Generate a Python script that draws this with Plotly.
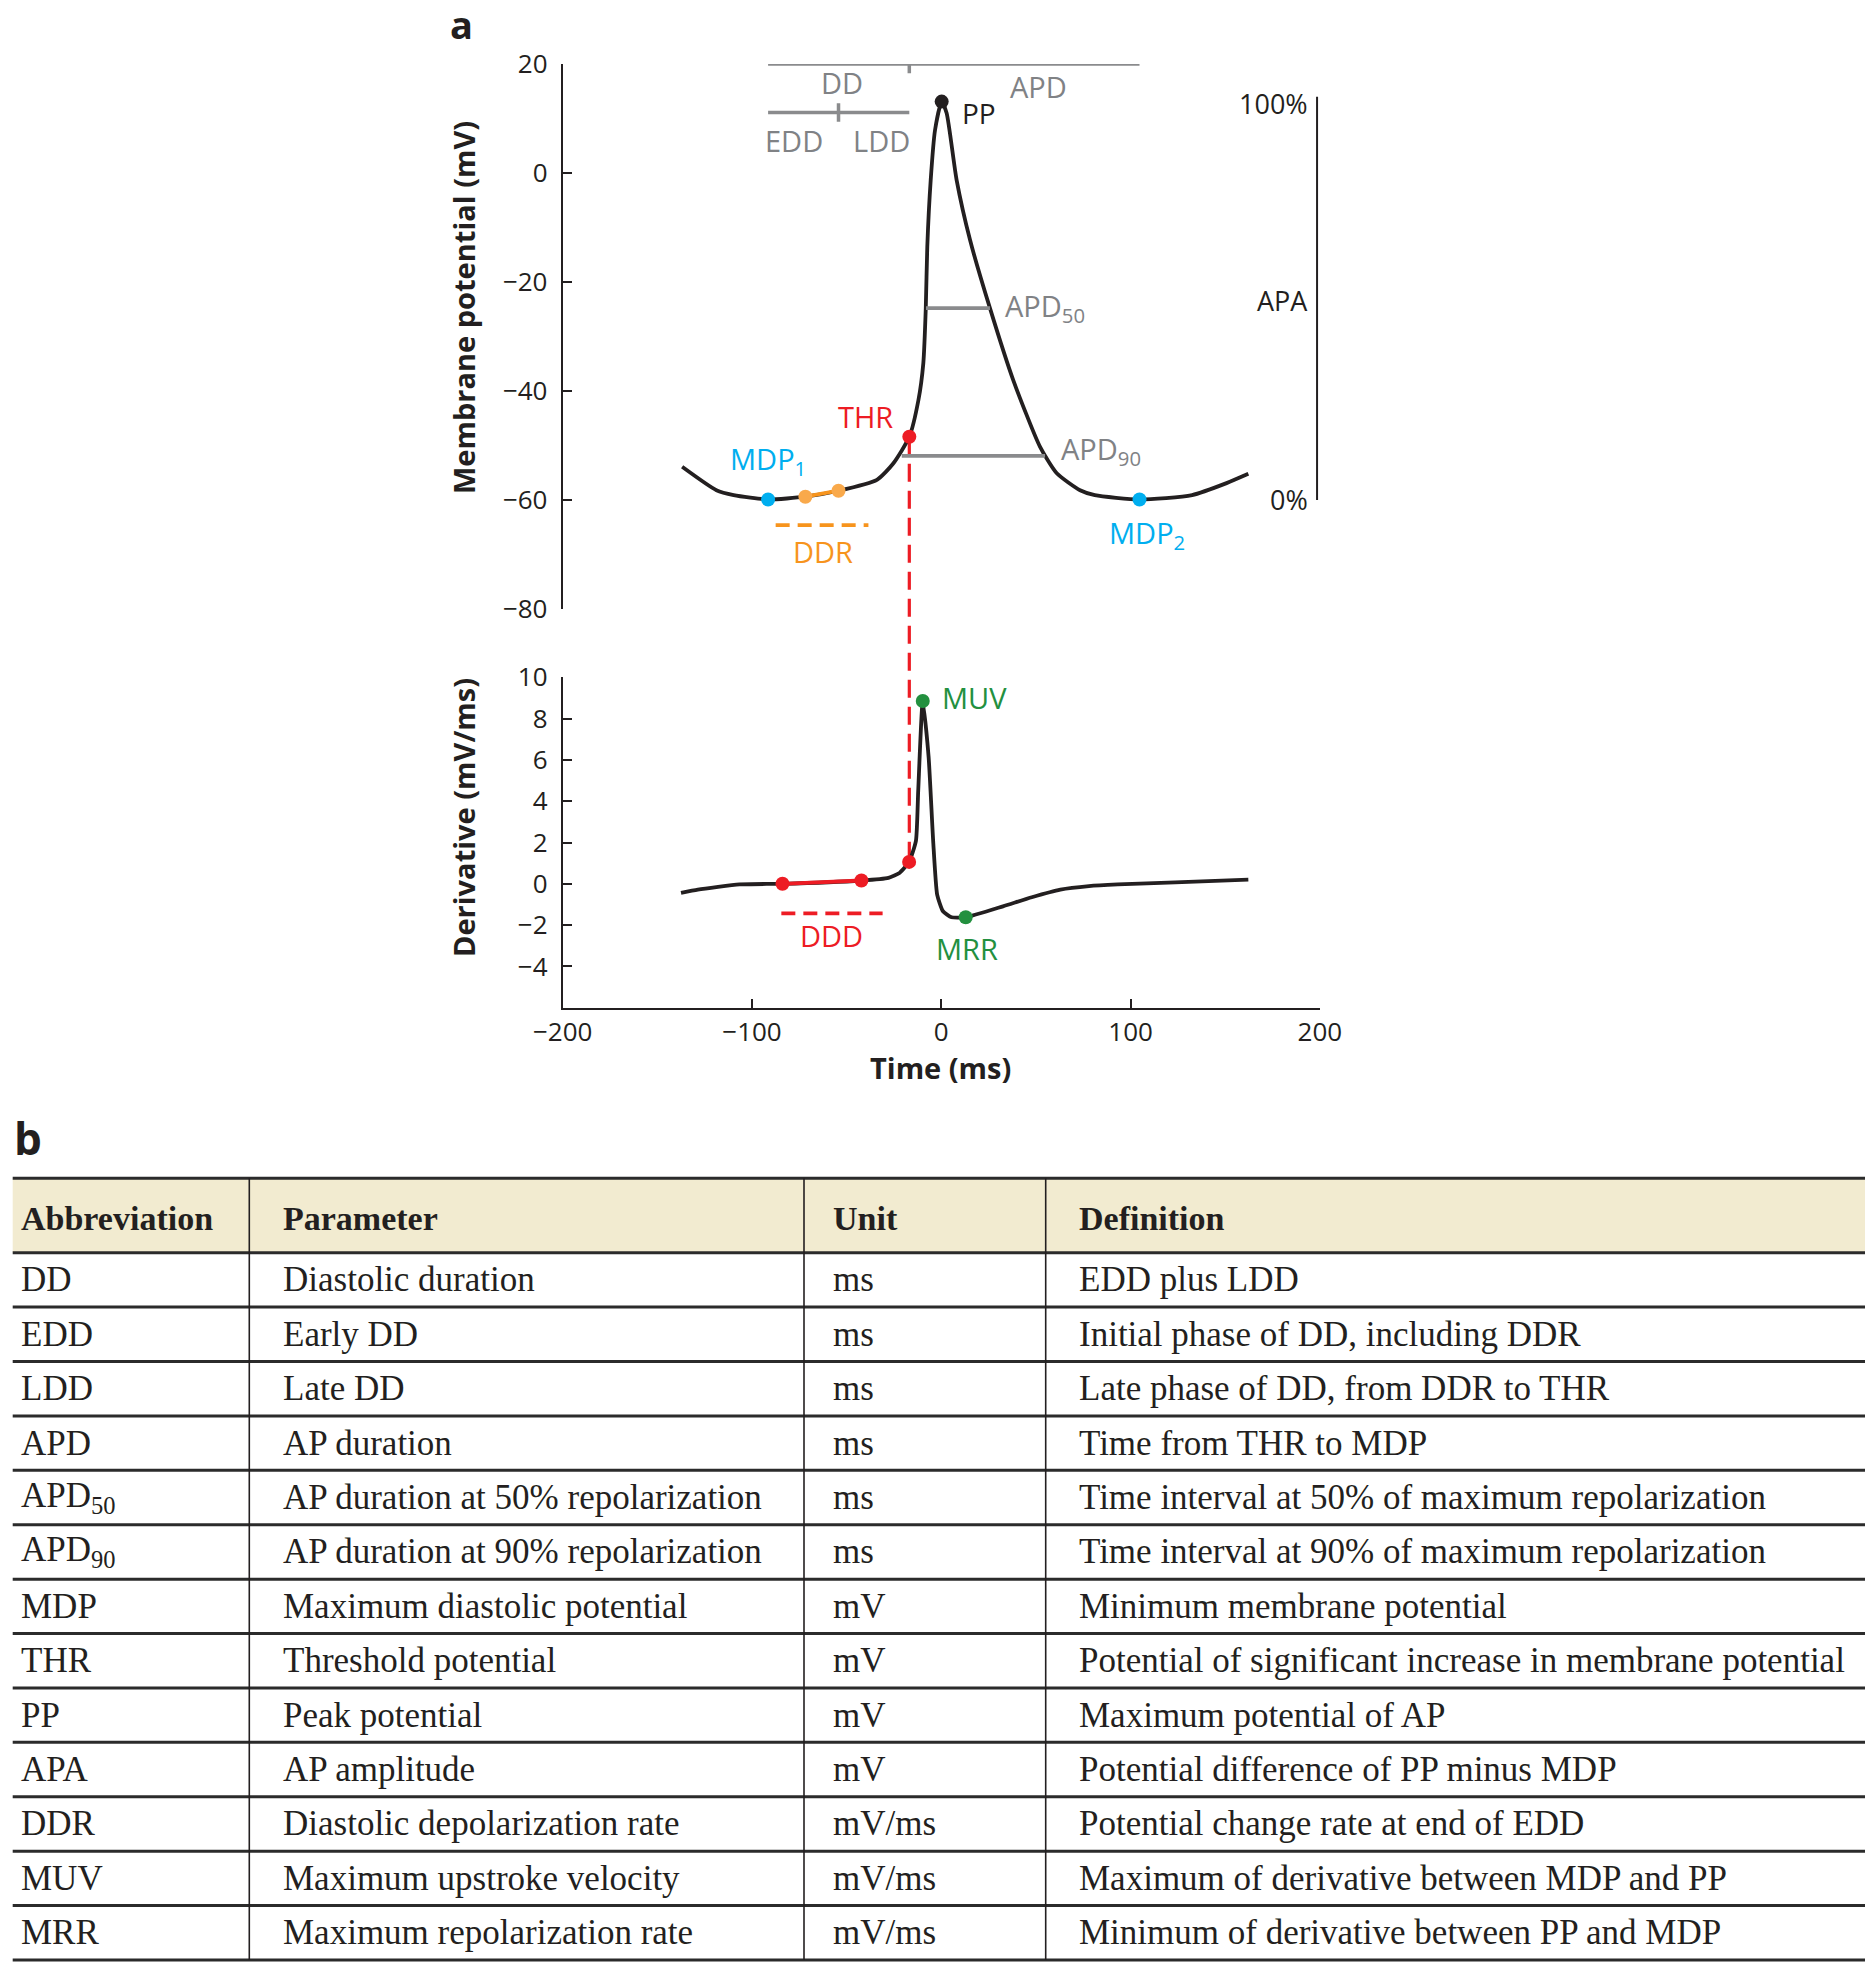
import plotly.graph_objects as go

W, H = 1873, 1971
OFF = 8  # browser body margin
FW, FH = W - OFF, H - OFF

# ---------------- data ----------------
time_ms = [-136.9, -118.8, -109.7, -91.5, -71.8, -54.3, -34.0, -25.4, -16.9, -12.1, -9.5, -8.2,
           -7.4, -5.6, -3.3, 0.2, 2.8, 8.1, 15.2, 25.7, 38.0, 52.1, 61.0, 73.3, 81.1, 104.7,
           132.5, 150.7, 162.2]
potential_mv = [-53.9, -58.2, -59.1, -59.9, -59.4, -58.3, -56.3, -53.3, -48.4, -41.7, -34.9, -24.8,
                -13.5, -1.3, 7.9, 13.1, 11.0, -1.3, -12.3, -24.8, -38.0, -50.2, -55.1, -58.2, -59.1, -59.9,
                -59.1, -56.9, -55.2]

deriv_t = [-137.5, -128.6, -106.6, -83.9, -42.2, -27.9, -21.9, -17.0, -13.4, -12.2, -9.8, -6.7, -4.3,
           -2.2, 0.9, 5.4, 12.9, 32.6, 47.8, 62.9, 78.0, 93.2, 123.5, 162.2]
deriv_mv_ms = [-0.44, -0.28, -0.03, 0.0, 0.16, 0.29, 0.54, 1.06, 2.08, 4.5, 8.85, 6.14, 2.08,
               -0.52, -1.33, -1.62, -1.62, -1.09, -0.65, -0.28, -0.11, -0.03, 0.07, 0.2]

mdp_t = [-91.5, 104.7]
mdp_v = [-59.9, -59.9]
ddr_t = [-71.8, -54.3]
ddr_v = [-59.4, -58.3]
thr_t = [-16.9]
thr_v = [-48.4]
pp_t = [0.2]
pp_v = [13.1]
ddd_t = [-83.9, -42.2, -17.0]
ddd_v = [0.0, 0.16, 1.06]
muv_mrr_t = [-9.8, 12.9]
muv_mrr_v = [8.85, -1.62]
apd50_t = [-8.1, 25.7]
apd50_v = [-24.8, -24.8]
apd90_t = [-20.9, 54.8]
apd90_v = [-51.9, -51.9]
apa_v = [-60.0, 14.0]

top_yticks = [-80, -60, -40, -20, 0, 20]
top_yticktext = ["\u221280", "\u221260", "\u221240", "\u221220", "0", "20"]
bot_yticks = [-4, -2, 0, 2, 4, 6, 8, 10]
bot_yticktext = ["\u22124", "\u22122", "0", "2", "4", "6", "8", "10"]
xticks = [-200, -100, 0, 100, 200]
xticktext = ["\u2212200", "\u2212100", "0", "100", "200"]

col_headers = ["Abbreviation", "Parameter", "Unit", "Definition"]
abbreviations = ["DD", "EDD", "LDD", "APD", "APD<sub>50</sub>", "APD<sub>90</sub>", "MDP", "THR",
                 "PP", "APA", "DDR", "MUV", "MRR"]
parameters = ["Diastolic duration", "Early DD", "Late DD", "AP duration",
              "AP duration at 50% repolarization", "AP duration at 90% repolarization",
              "Maximum diastolic potential", "Threshold potential", "Peak potential",
              "AP amplitude", "Diastolic depolarization rate", "Maximum upstroke velocity",
              "Maximum repolarization rate"]
units = ["ms", "ms", "ms", "ms", "ms", "ms", "mV", "mV", "mV", "mV", "mV/ms", "mV/ms", "mV/ms"]
definitions = ["EDD plus LDD", "Initial phase of DD, including DDR", "Late phase of DD, from DDR to THR",
               "Time from THR to MDP", "Time interval at 50% of maximum repolarization",
               "Time interval at 90% of maximum repolarization", "Minimum membrane potential",
               "Potential of significant increase in membrane potential", "Maximum potential of AP",
               "Potential difference of PP minus MDP", "Potential change rate at end of EDD",
               "Maximum of derivative between MDP and PP", "Minimum of derivative between PP and MDP"]

# ---------------- styles ----------------
BLACK = "#231F20"
GRAY_T = "#808285"
GRAY_L = "#8A8B8D"
RED = "#ED1C24"
ORANGE = "#F7941D"
ORANGE_DOT = "#F9A94B"
BLUE = "#00AEEF"
GREEN = "#23903F"
SANS = "Open Sans"
SERIF = "Liberation Serif"
DOT = 14

# pixel layout (window pixels)
X0, X1 = 562.7, 1319.9
TOP_Y0, TOP_Y1 = 64.0, 609.0
BOT_Y0, BOT_Y1 = 677.3, 1007.7
TOP_RANGE = [-80, 20]
BOT_RANGE = [-6, 10]


def px(xp):
    return (xp - OFF) / FW


def py(yp):
    return 1 - (yp - OFF) / FH


def top_paper(v):
    lo, hi = py(TOP_Y1), py(TOP_Y0)
    return lo + (v - TOP_RANGE[0]) / (TOP_RANGE[1] - TOP_RANGE[0]) * (hi - lo)


def bot_paper(v):
    lo, hi = py(BOT_Y1), py(BOT_Y0)
    return lo + (v - BOT_RANGE[0]) / (BOT_RANGE[1] - BOT_RANGE[0]) * (hi - lo)


fig = go.Figure()

# ---- top panel ----
fig.add_trace(go.Scatter(x=time_ms, y=potential_mv, mode="lines", xaxis="x", yaxis="y",
                         line=dict(color=BLACK, width=3.8, shape="spline", smoothing=0.6),
                         cliponaxis=False, hoverinfo="skip"))
fig.add_trace(go.Scatter(x=apd50_t, y=apd50_v, mode="lines", xaxis="x", yaxis="y",
                         line=dict(color=GRAY_L, width=3.8), hoverinfo="skip"))
fig.add_trace(go.Scatter(x=apd90_t, y=apd90_v, mode="lines", xaxis="x", yaxis="y",
                         line=dict(color=GRAY_L, width=3.8), hoverinfo="skip"))
# DD / APD bars
fig.add_trace(go.Scatter(x=[mdp_t[0], mdp_t[1]], y=[20, 20], mode="lines", xaxis="x", yaxis="y",
                         line=dict(color=GRAY_L, width=3.5), cliponaxis=False, hoverinfo="skip"))
fig.add_trace(go.Scatter(x=[thr_t[0], thr_t[0]], y=[22.0, 18.3], mode="lines", xaxis="x", yaxis="y",
                         line=dict(color=GRAY_L, width=3.5), cliponaxis=False, hoverinfo="skip"))
fig.add_trace(go.Scatter(x=[mdp_t[0], thr_t[0]], y=[11.1, 11.1], mode="lines", xaxis="x", yaxis="y",
                         line=dict(color=GRAY_L, width=3.5), cliponaxis=False, hoverinfo="skip"))
fig.add_trace(go.Scatter(x=[ddr_t[1], ddr_t[1]], y=[12.8, 9.4], mode="lines", xaxis="x", yaxis="y",
                         line=dict(color=GRAY_L, width=3.5), cliponaxis=False, hoverinfo="skip"))
# DDR segment and dashed underline
fig.add_trace(go.Scatter(x=ddr_t, y=ddr_v, mode="lines", xaxis="x", yaxis="y",
                         line=dict(color=ORANGE, width=3.8), hoverinfo="skip"))
fig.add_trace(go.Scatter(x=[-87.5, -38.5], y=[-64.6, -64.6], mode="lines", xaxis="x", yaxis="y",
                         line=dict(color=ORANGE, width=3.8, dash="14px,8px"), hoverinfo="skip"))
# APA bar
fig.add_trace(go.Scatter(x=[198.5, 198.5], y=apa_v, mode="lines", xaxis="x", yaxis="y",
                         line=dict(color=BLACK, width=2), cliponaxis=False, hoverinfo="skip"))
# markers
fig.add_trace(go.Scatter(x=ddr_t, y=ddr_v, mode="markers", xaxis="x", yaxis="y",
                         marker=dict(color=ORANGE_DOT, size=DOT), hoverinfo="skip"))
fig.add_trace(go.Scatter(x=mdp_t, y=mdp_v, mode="markers", xaxis="x", yaxis="y",
                         marker=dict(color=BLUE, size=DOT), hoverinfo="skip"))
fig.add_trace(go.Scatter(x=thr_t, y=thr_v, mode="markers", xaxis="x", yaxis="y",
                         marker=dict(color=RED, size=DOT), hoverinfo="skip"))
fig.add_trace(go.Scatter(x=pp_t, y=pp_v, mode="markers", xaxis="x", yaxis="y",
                         marker=dict(color=BLACK, size=DOT), cliponaxis=False, hoverinfo="skip"))

# ---- bottom panel ----
fig.add_trace(go.Scatter(x=deriv_t, y=deriv_mv_ms, mode="lines", xaxis="x2", yaxis="y2",
                         line=dict(color=BLACK, width=3.8, shape="spline", smoothing=0.5),
                         hoverinfo="skip"))
fig.add_trace(go.Scatter(x=ddd_t[:2], y=ddd_v[:2], mode="lines", xaxis="x2", yaxis="y2",
                         line=dict(color=RED, width=3.8), hoverinfo="skip"))
fig.add_trace(go.Scatter(x=[-84.5, -31.0], y=[-1.43, -1.43], mode="lines", xaxis="x2", yaxis="y2",
                         line=dict(color=RED, width=3.8, dash="14px,8px"), hoverinfo="skip"))
fig.add_trace(go.Scatter(x=ddd_t, y=ddd_v, mode="markers", xaxis="x2", yaxis="y2",
                         marker=dict(color=RED, size=DOT), hoverinfo="skip"))
fig.add_trace(go.Scatter(x=muv_mrr_t, y=muv_mrr_v, mode="markers", xaxis="x2", yaxis="y2",
                         marker=dict(color=GREEN, size=DOT), hoverinfo="skip"))

# THR dashed connector, through both panels
shapes = [dict(type="line", xref="x", yref="paper", x0=thr_t[0], x1=thr_t[0],
               y0=top_paper(thr_v[0]), y1=bot_paper(ddd_v[2]),
               line=dict(color=RED, width=3.2, dash="18px,9px"), layer="below")]

# ---- chart annotations ----
ann = []


def lab(text, x, y, color, xa="center", xref="x", yref="y", size=29):
    ann.append(dict(text=text, x=x, y=y, xref=xref, yref=yref, xanchor=xa, yanchor="middle",
                    showarrow=False, font=dict(family=SANS, size=size, color=color)))


lab("DD", -52.6, 16.6, GRAY_T)
lab("APD", 51.4, 15.8, GRAY_T)
lab("EDD", -77.8, 6.0, GRAY_T)
lab("LDD", -31.5, 6.0, GRAY_T)
lab("PP", 9.9, 11.0, BLACK, xa="left", size=28)
lab("THR", -40.0, -44.7, RED)
lab("MDP<sub>1</sub>", -91.5, -52.7, BLUE)
lab("MDP<sub>2</sub>", 108.5, -66.3, BLUE)
lab("DDR", -62.5, -69.5, ORANGE)
lab("APD<sub>50</sub>", 32.6, -24.6, GRAY_T, xa="left")
lab("APD<sub>90</sub>", 62.3, -51.0, GRAY_T, xa="left")
lab("100%", 194.8, 12.8, BLACK, xa="right", size=27)
lab("APA", 194.8, -23.4, BLACK, xa="right", size=27)
lab("0%", 194.8, -59.9, BLACK, xa="right", size=27)
lab("MUV", 17.5, 9.0, GREEN, xref="x2", yref="y2")
lab("MRR", 13.6, -3.15, GREEN, xref="x2", yref="y2")
lab("DDD", -58.2, -2.5, RED, xref="x2", yref="y2")

# axis titles
ann.append(dict(text="<b>Membrane potential (mV)</b>", x=px(463), y=py(308), xref="paper", yref="paper",
                textangle=-90, showarrow=False, xanchor="center", yanchor="middle",
                font=dict(family=SANS, size=29, color=BLACK)))
ann.append(dict(text="<b>Derivative (mV/ms)</b>", x=px(463), y=py(818), xref="paper", yref="paper",
                textangle=-90, showarrow=False, xanchor="center", yanchor="middle",
                font=dict(family=SANS, size=29, color=BLACK)))
ann.append(dict(text="<b>Time (ms)</b>", x=px(940), y=py(1067), xref="paper", yref="paper",
                showarrow=False, xanchor="center", yanchor="middle",
                font=dict(family=SANS, size=29, color=BLACK)))
ann.append(dict(text="<b>a</b>", x=px(461), y=py(-4), xref="paper", yref="paper",
                showarrow=False, xanchor="center", yanchor="top",
                font=dict(family=SANS, size=38, color=BLACK)))
ann.append(dict(text="<b>b</b>", x=px(28), y=py(1138), xref="paper", yref="paper",
                showarrow=False, xanchor="center", yanchor="middle",
                font=dict(family=SANS, size=44, color=BLACK)))

# ---------------- table ----------------
T_LEFT, T_RIGHT = 12.7, 1866.7
T_TOP, T_HEAD = 1178.3, 1252.7
ROW_H = (1960.0 - T_HEAD) / len(abbreviations)
COL_LINES = [249.3, 804.0, 1045.7]
TEXT_X = [18.5, 281.0, 831.0, 1077.0]

shapes.append(dict(type="rect", xref="paper", yref="paper", x0=px(T_LEFT), x1=px(T_RIGHT),
                   y0=py(T_HEAD), y1=py(T_TOP), fillcolor="#F2EBD0", line=dict(width=0), layer="below"))
hlines = [T_TOP, T_HEAD] + [T_HEAD + ROW_H * (i + 1) for i in range(len(abbreviations))]
for yl in hlines:
    shapes.append(dict(type="line", xref="paper", yref="paper", x0=px(T_LEFT), x1=px(T_RIGHT),
                       y0=py(yl), y1=py(yl), line=dict(color="#2B2B2B", width=3)))
for xl in COL_LINES:
    shapes.append(dict(type="line", xref="paper", yref="paper", x0=px(xl), x1=px(xl),
                       y0=py(T_TOP), y1=py(hlines[-1]), line=dict(color=BLACK, width=1.6)))

for j, htxt in enumerate(col_headers):
    ann.append(dict(text="<b>" + htxt + "</b>", x=px(TEXT_X[j]), y=py((T_TOP + T_HEAD) / 2 + 3),
                    xref="paper", yref="paper", xanchor="left", yanchor="middle", showarrow=False,
                    font=dict(family=SERIF, size=34, color=BLACK)))

for i, row in enumerate(zip(abbreviations, parameters, units, definitions)):
    yc = T_HEAD + ROW_H * (i + 0.5)
    for j, txt in enumerate(row):
        ann.append(dict(text=txt, x=px(TEXT_X[j]), y=py(yc), xref="paper", yref="paper",
                        xanchor="left", yanchor="middle", showarrow=False,
                        font=dict(family=SERIF, size=35, color=BLACK)))

axis_common = dict(showgrid=False, zeroline=False, linecolor=BLACK, linewidth=2,
                   ticks="inside", ticklen=9, tickwidth=2, tickcolor=BLACK, automargin=False,
                   tickfont=dict(family=SANS, size=26, color=BLACK))

fig.update_layout(
    width=FW, height=FH, margin=dict(l=0, r=0, t=0, b=0, pad=0, autoexpand=False),
    paper_bgcolor="white", plot_bgcolor="rgba(0,0,0,0)", showlegend=False,
    xaxis=dict(domain=[px(X0), px(X1)], range=[-200, 200], anchor="y", visible=False,
               showgrid=False, zeroline=False, automargin=False),
    yaxis=dict(domain=[py(TOP_Y1), py(TOP_Y0)], range=TOP_RANGE, anchor="x", showline=True,
               tickvals=top_yticks, ticktext=top_yticktext, ticklabelstandoff=8, **axis_common),
    xaxis2=dict(domain=[px(X0), px(X1)], range=[-200, 200], anchor="y2", showline=True,
                tickvals=xticks, ticktext=xticktext, ticklabelstandoff=0, **axis_common),
    yaxis2=dict(domain=[py(BOT_Y1), py(BOT_Y0)], range=BOT_RANGE, anchor="x2", showline=True,
                tickvals=bot_yticks, ticktext=bot_yticktext, ticklabelstandoff=8, **axis_common),
    yaxis3=dict(overlaying="y2", side="right", anchor="x2", range=BOT_RANGE, showline=True,
                tickvals=bot_yticks, showticklabels=False, **axis_common),
    shapes=shapes,
    annotations=ann,
)

fig.write_html("out.html")
